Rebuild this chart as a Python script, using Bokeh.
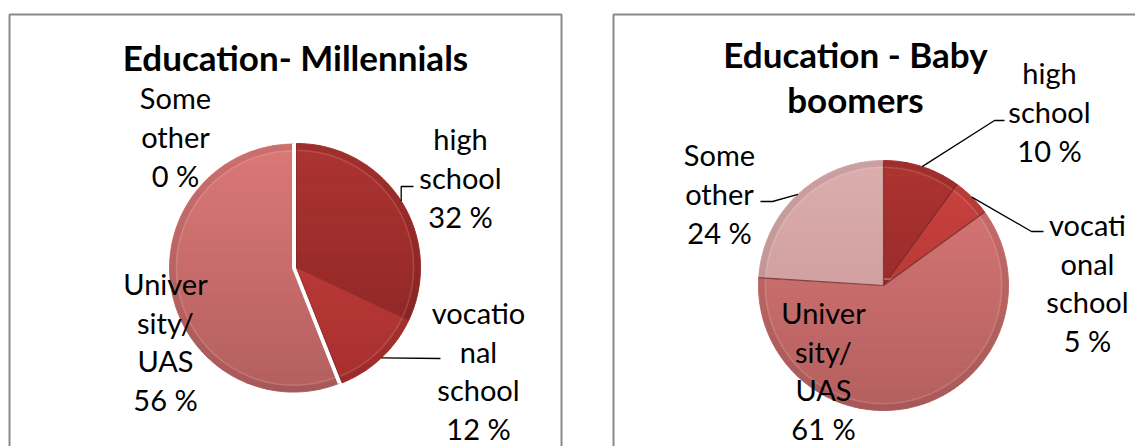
import numpy as np
from bokeh.plotting import figure
from bokeh.models import Range1d
from bokeh.core.properties import value
from bokeh.embed import file_html
from bokeh.resources import INLINE

# ---------------- data ----------------
categories = ["high school", "vocational school", "University/UAS", "Some other"]
millennials = [32, 12, 56, 0]
baby_boomers = [10, 5, 61, 24]
mill_names = ["high\nschool", "vocatio\nnal\nschool", "Univer\nsity/\nUAS", "Some\nother"]
boom_names = ["high\nschool", "vocati\nonal\nschool", "Univer\nsity/\nUAS", "Some\nother"]
titles = ["Education- Millennials", "Education - Baby\nboomers"]

# ---------------- styles ----------------
top_cols = ["#ad3431", "#cc4440", "#db7977", "#dcaeae"]
bot_cols = ["#882322", "#a52e2d", "#b35f5f", "#c69292"]
FONT = "Lato"

W, H = 1135, 446


def Y(y):
    return H - y


p = figure(width=W, height=H, x_range=Range1d(0, W), y_range=Range1d(0, H),
           output_backend="svg", toolbar_location=None, min_border=0,
           x_axis_location=None, y_axis_location=None)
p.grid.visible = False
p.outline_line_color = None
p.background_fill_color = "white"
p.border_fill_color = "white"

# boxes
p.quad(left=[9, 613], right=[561, 1160], top=[Y(14), Y(14)], bottom=[Y(470), Y(470)],
       fill_color=None, line_color="#8a8a8a", line_width=2)


def hex2rgb(h):
    return np.array([int(h[i:i + 2], 16) for i in (1, 3, 5)], dtype=float)


def mix(c0, c1, t):
    c = hex2rgb(c0) * (1 - t) + hex2rgb(c1) * t
    return "#%02x%02x%02x" % tuple(int(round(v)) for v in c)


def clip_half(pts, yv, keep_above):
    out = []
    n = len(pts)
    for i in range(n):
        a = pts[i]
        b = pts[(i + 1) % n]
        ina = a[1] >= yv if keep_above else a[1] <= yv
        inb = b[1] >= yv if keep_above else b[1] <= yv
        if ina:
            out.append(a)
        if ina != inb:
            t = (yv - a[1]) / (b[1] - a[1])
            out.append((a[0] + t * (b[0] - a[0]), yv))
    return out


def sector_pts(cx, cy, r, f0, f1):
    n = max(3, int(abs(f1 - f0) * 240))
    th = np.linspace(f0, f1, n) * 2 * np.pi
    pts = [(cx, cy)] + [(cx + r * np.sin(t), cy + r * np.cos(t)) for t in th]
    return pts


def draw_pie(vals, cx_img, cy_img, r, explode, outlines):
    cy0 = Y(cy_img)
    total = float(sum(vals))
    f = 0.0
    mids = []
    for i, v in enumerate(vals):
        frac = v / total
        f0, f1 = f, f + frac
        f = f1
        mid = (f0 + f1) / 2
        mids.append(mid)
        if frac <= 0:
            continue
        e = explode[i]
        cx = cx_img + e * np.sin(mid * 2 * np.pi)
        cy = cy0 + e * np.cos(mid * 2 * np.pi)
        pts = sector_pts(cx, cy, r, f0, f1)
        nb = 40
        edges = np.linspace(cy0 + r + 4, cy0 - r - 4, nb + 1)
        bx, by, bc = [], [], []
        for k in range(nb):
            hi, lo = edges[k], edges[k + 1]
            q = clip_half(pts, hi, False)
            if len(q) < 3:
                continue
            q = clip_half(q, lo, True)
            if len(q) < 3:
                continue
            bx.append([a for a, _ in q])
            by.append([b for _, b in q])
            bc.append(mix(top_cols[i], bot_cols[i], (k + 0.5) / nb))
        p.patches(bx, by, fill_color=bc, line_color=bc, line_width=1)
        # rim shading (bevel)
        th = np.linspace(f0, f1, max(3, int(frac * 240))) * 2 * np.pi
        ro, ri = r, r - 6
        rx = list(cx + ro * np.sin(th)) + list(cx + ri * np.sin(th[::-1]))
        ry = list(cy + ro * np.cos(th)) + list(cy + ri * np.cos(th[::-1]))
        p.patch(rx, ry, fill_color="black", fill_alpha=0.07, line_color=None)
        p.line(list(cx + (r - 7) * np.sin(th)), list(cy + (r - 7) * np.cos(th)),
               line_color="white", line_alpha=0.13, line_width=1.5)
        # radial edges
        col, lw, la = outlines[i]
        ex = [pts[1][0], pts[0][0], pts[-1][0]]
        ey = [pts[1][1], pts[0][1], pts[-1][1]]
        p.line(ex, ey, line_color=col, line_width=lw, line_alpha=la)
    return mids


def pie_point(cx_img, cy_img, r, frac):
    return cx_img + r * np.sin(frac * 2 * np.pi), Y(cy_img) + r * np.cos(frac * 2 * np.pi)


# ---------------- pies ----------------
L_CX, L_CY, L_R = 296, 267, 124
dark = ("#6e2222", 1, 0.45)
mids_l = draw_pie(millennials, L_CX, L_CY, L_R, [0, 0, 3, 0],
                  [dark, dark, ("white", 3, 1.0), dark])
R_CX, R_CY, R_R = 883, 285, 125
rl = ("#6e2a2a", 1.2, 0.8)
mids_r = draw_pie(baby_boomers, R_CX, R_CY, R_R, [0, 0, 0, 0], [rl, rl, rl, rl])

# ---------------- leader lines ----------------
lead_x, lead_y = [], []
sx, sy = pie_point(L_CX, L_CY, L_R, mids_l[0])
lead_x.append([sx, sx, 413]); lead_y.append([sy, Y(186), Y(186)])
sx, sy = pie_point(L_CX, L_CY, L_R, mids_l[1])
lead_x.append([sx, 440]); lead_y.append([sy, Y(358)])
sx, sy = pie_point(R_CX, R_CY, R_R, mids_r[0])
lead_x.append([sx, 994, 1004]); lead_y.append([sy, Y(120), Y(120)])
sx, sy = pie_point(R_CX, R_CY, R_R, mids_r[1])
lead_x.append([sx, 1031, 1043]); lead_y.append([sy, Y(231), Y(231)])
sx, sy = pie_point(R_CX, R_CY, R_R, mids_r[3])
lead_x.append([sx, 772, 760]); lead_y.append([sy, Y(201), Y(201)])
p.multi_line(lead_x, lead_y, line_color="black", line_width=1.3)

# ---------------- labels ----------------
left_pos = [(460, 177), (478, 370), (165, 341), (175, 136)]
right_pos = [(1049, 111), (1087, 282), (823, 370), (719, 193)]
lt = [n + "\n%d %%" % v for n, v in zip(mill_names, millennials)]
rt = [n + "\n%d %%" % v for n, v in zip(boom_names, baby_boomers)]
p.text(x=[q[0] for q in left_pos + right_pos], y=[Y(q[1]) for q in left_pos + right_pos],
       text=lt + rt, text_font=value(FONT), text_font_size="29px", text_color="black",
       text_align="center", text_baseline="middle", text_line_height=1.11)

# titles
p.text(x=[295, 855], y=[Y(56), Y(76)], text=titles, text_font=value(FONT),
       text_font_style="bold", text_font_size="35px", text_color="black",
       text_align="center", text_baseline="middle", text_line_height=1.07)

open("out.html", "w").write(file_html(p, INLINE))
